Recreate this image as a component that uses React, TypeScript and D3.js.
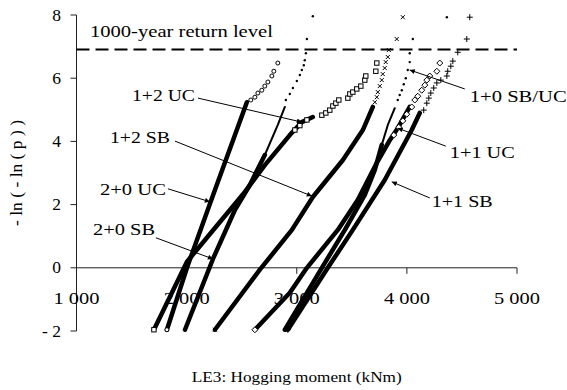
import React from 'react';
import * as d3 from 'd3';

const W = 567;
const H = 390;

// Axis ticks
const xTicks = [1000, 2000, 3000, 4000, 5000];
const xTickLabels = ['1 000', '2 000', '3 000', '4 000', '5 000'];
const yTicks = [-2, 0, 2, 4, 6, 8];
const yTickLabels = ['- 2', '0', '2', '4', '6', '8'];

// Reduced variate of the 1000-year return level: -ln(-ln(1 - 1/1000))
const returnLevel1000 = 6.907;

type Pt = [number, number];

// 2+0 UC
const uc20Dense: Pt[] = [[1821, -1.96], [2003, 0.0], [2211, 2.02], [2257, 2.46], [2547, 5.24]];
const uc20Thin: Pt[] = [];
const uc20Marks: Pt[] = [[1821, -1.96], [2583, 5.31], [2620, 5.4], [2647, 5.53], [2683, 5.62], [2710, 5.75], [2738, 5.88], [2774, 6.07], [2792, 6.22], [2828, 6.48]];

// 2+0 SB
const sb20Dense: Pt[] = [[1985, -1.96], [2239, 0.28], [2438, 1.83], [2574, 2.62], [2710, 3.57]];
const sb20Thin: Pt[] = [[2710, 3.57], [2828, 4.52], [2892, 5.09]];
const sb20Marks: Pt[] = [[1985, -1.96], [2901, 5.31], [2937, 5.5], [2965, 5.69], [3001, 5.91], [3028, 6.1], [3046, 6.26], [3064, 6.41], [3073, 6.57], [3083, 6.79], [3092, 7.24], [3146, 7.96]];

// 1+2 UC
const uc12Dense: Pt[] = [[1703, -1.96], [2003, 0.19], [2257, 1.26], [2529, 2.4], [2710, 3.25], [2937, 4.2], [3046, 4.61], [3146, 4.77]];
const uc12Thin: Pt[] = [];
const uc12Marks: Pt[] = [[1703, -1.96], [2983, 4.36], [3028, 4.5], [3092, 4.68], [3228, 4.83], [3264, 4.9], [3300, 4.99], [3328, 5.12], [3355, 5.21], [3382, 5.31], [3464, 5.37], [3482, 5.5], [3509, 5.56], [3545, 5.66], [3582, 5.75], [3618, 5.94], [3627, 6.07], [3718, 6.22], [3727, 6.48]];

// 1+2 SB
const sb12Dense: Pt[] = [[2257, -1.96], [2665, -0.06], [2956, 1.2], [3146, 2.24], [3419, 3.41], [3600, 4.36], [3691, 5.09]];
const sb12Thin: Pt[] = [];
const sb12Marks: Pt[] = [[2257, -1.96], [3709, 5.24], [3727, 5.4], [3736, 5.56], [3754, 5.75], [3772, 5.94], [3781, 6.13], [3799, 6.32], [3808, 6.51], [3827, 6.67], [3836, 6.89], [3908, 7.24], [3963, 7.93]];

// 1+1 UC
const uc11Dense: Pt[] = [[2620, -1.96], [2937, -0.79], [3092, 0.0], [3373, 1.2], [3555, 2.15], [3727, 3.32], [3845, 4.04], [3917, 4.42], [4026, 5.09]];
const uc11Thin: Pt[] = [];
const uc11Marks: Pt[] = [[2620, -1.96], [3881, 4.2], [3926, 4.45], [3963, 4.65], [3999, 4.86], [4044, 5.09], [4072, 5.31], [4099, 5.43], [4135, 5.62], [4163, 5.78], [4181, 5.94], [4208, 6.07], [4272, 6.22], [4299, 6.48]];

// 1+0 SB/UC
const sbuc10Dense: Pt[] = [[2892, -1.96], [3228, 0.0], [3437, 1.2], [3618, 2.31], [3709, 3.1], [3772, 3.89]];
const sbuc10Thin: Pt[] = [[3772, 3.89], [3827, 4.52], [3890, 5.05]];
const sbuc10Marks: Pt[] = [[2892, -1.96], [3917, 5.31], [3935, 5.47], [3954, 5.62], [3972, 5.81], [3990, 6.0], [4008, 6.26], [4026, 6.51], [4026, 6.79], [4054, 7.24], [4363, 7.93]];

// 1+1 SB
const sb11Dense: Pt[] = [[2919, -1.96], [3282, 0.0], [3509, 1.2], [3799, 2.78], [4044, 4.36], [4117, 4.9]];
const sb11Thin: Pt[] = [];
const sb11Marks: Pt[] = [[2919, -1.96], [4153, 4.99], [4181, 5.21], [4199, 5.37], [4217, 5.53], [4244, 5.69], [4272, 5.85], [4308, 5.94], [4363, 6.07], [4371, 6.22], [4399, 6.38], [4417, 6.54], [4462, 6.82], [4544, 7.24], [4571, 7.93]];

type MarkKind = 'circle' | 'dot' | 'square' | 'cross' | 'diamond' | 'plus';

const seriesTable: { dense: Pt[]; thin: Pt[]; marks: Pt[]; kind: MarkKind }[] = [
  { dense: uc12Dense, thin: uc12Thin, marks: uc12Marks, kind: 'square' },
  { dense: uc20Dense, thin: uc20Thin, marks: uc20Marks, kind: 'circle' },
  { dense: sb20Dense, thin: sb20Thin, marks: sb20Marks, kind: 'dot' },
  { dense: sb12Dense, thin: sb12Thin, marks: sb12Marks, kind: 'cross' },
  { dense: uc11Dense, thin: uc11Thin, marks: uc11Marks, kind: 'diamond' },
  { dense: sbuc10Dense, thin: sbuc10Thin, marks: sbuc10Marks, kind: 'dot' },
  { dense: sb11Dense, thin: sb11Thin, marks: sb11Marks, kind: 'plus' },
];

// Series labels: text anchor (data units), arrow start and arrow tip (data units)
const labelTexts = ['1+2 UC', '1+2 SB', '2+0 UC', '2+0 SB', '1+0 SB/UC', '1+1 UC', '1+1 SB'];
const labelAt: Pt[] = [[1504, 5.28], [1304, 3.95], [1213, 2.31], [1150, 1.04], [4571, 5.24], [4390, 3.48], [4226, 1.93]];
const arrowFrom: Pt[] = [[2103, 5.37], [1894, 4.01], [1830, 2.5], [1721, 0.95], [4526, 5.66], [4353, 3.85], [4208, 2.21]];
const arrowTo: Pt[] = [[3046, 4.61], [3137, 2.27], [2211, 2.09], [2239, 0.28], [4026, 6.26], [3917, 4.42], [3863, 2.72]];
const labelWidths = [63, 60, 66, 62, 97, 65, 61];

const FONT = '"Liberation Serif", "Times New Roman", serif';

function Marker({ kind, cx, cy }: { kind: MarkKind; cx: number; cy: number }) {
  switch (kind) {
    case 'circle':
      return <circle cx={cx} cy={cy} r={2} fill="#fff" stroke="#000" strokeWidth={1} />;
    case 'dot':
      return <circle cx={cx} cy={cy} r={1.2} fill="#000" />;
    case 'square':
      return <rect x={cx - 2.2} y={cy - 2.2} width={4.4} height={4.4} fill="#fff" stroke="#000" strokeWidth={1} />;
    case 'cross':
      return (
        <path d={`M${cx - 2},${cy - 2}L${cx + 2},${cy + 2}M${cx - 2},${cy + 2}L${cx + 2},${cy - 2}`} stroke="#000" strokeWidth={1} />
      );
    case 'diamond':
      return (
        <path d={`M${cx},${cy - 3}L${cx + 3},${cy}L${cx},${cy + 3}L${cx - 3},${cy}Z`} fill="#fff" stroke="#000" strokeWidth={1} />
      );
    case 'plus':
      return <path d={`M${cx - 3},${cy}L${cx + 3},${cy}M${cx},${cy - 3}L${cx},${cy + 3}`} stroke="#000" strokeWidth={1} />;
  }
  return null;
}

export default function App() {
  const x = d3.scaleLinear().domain([1000, 5000]).range([76.5, 517]);
  const y = d3.scaleLinear().domain([-2, 8]).range([331, 15]);
  const line = d3
    .line<Pt>()
    .x((d) => x(d[0]))
    .y((d) => y(d[1]))
    .curve(d3.curveLinear);

  const x0 = x(1000);
  const yZero = y(0);

  return (
    <svg width={W} height={H} style={{ position: 'absolute', left: 0, top: 0, background: '#fff' }} fontFamily={FONT}>
      <defs>
        <marker id="arrowHead" viewBox="0 0 10 10" refX="10" refY="5" markerWidth="7" markerHeight="5" markerUnits="userSpaceOnUse" orient="auto">
          <path d="M0,0L10,5L0,10Z" fill="#000" />
        </marker>
      </defs>

      {/* y axis */}
      <line x1={x0} x2={x0} y1={y(8)} y2={y(-2)} stroke="#222" strokeWidth={1} />
      {yTicks.map((t, i) => (
        <g key={`yt${t}`}>
          <line x1={x0 - 6} x2={x0} y1={y(t)} y2={y(t)} stroke="#222" strokeWidth={1} />
          <text x={61} y={y(t) + 5.5} textAnchor="end" fontSize={17.5}>
            {yTickLabels[i]}
          </text>
        </g>
      ))}

      {/* x axis through zero */}
      <line x1={x0} x2={x(5000)} y1={yZero} y2={yZero} stroke="#222" strokeWidth={1} />
      {xTicks.map((t, i) => (
        <g key={`xt${t}`}>
          <line x1={x(t)} x2={x(t)} y1={yZero} y2={yZero + 6} stroke="#222" strokeWidth={1} />
          <text x={x(t)} y={304} textAnchor="middle" fontSize={17.5} textLength={46} lengthAdjust="spacingAndGlyphs">
            {xTickLabels[i]}
          </text>
        </g>
      ))}

      {/* 1000-year return level */}
      <line x1={x0} x2={x(5000)} y1={y(returnLevel1000)} y2={y(returnLevel1000)} stroke="#000" strokeWidth={2} strokeDasharray="13 6" />
      <text x={x(1122)} y={y(7.3)} fontSize={17.5} textLength={183} lengthAdjust="spacingAndGlyphs">
        1000-year return level
      </text>

      {/* series */}
      {seriesTable.map((s, i) => (
        <g key={`s${i}`}>
          <path d={line(s.dense) || ''} fill="none" stroke="#000" strokeWidth={4.5} strokeLinecap="round" strokeLinejoin="round" />
          {s.thin.length > 0 && (
            <path d={line(s.thin) || ''} fill="none" stroke="#000" strokeWidth={2} strokeLinecap="round" strokeLinejoin="round" />
          )}
          {s.marks.map((p, j) => (
            <Marker key={j} kind={s.kind} cx={x(p[0])} cy={y(p[1])} />
          ))}
        </g>
      ))}

      {/* series labels with arrows */}
      {labelTexts.map((t, i) => (
        <g key={`lab${i}`}>
          <line
            x1={x(arrowFrom[i][0])}
            y1={y(arrowFrom[i][1])}
            x2={x(arrowTo[i][0])}
            y2={y(arrowTo[i][1])}
            stroke="#000"
            strokeWidth={1}
            markerEnd="url(#arrowHead)"
          />
          <text x={x(labelAt[i][0])} y={y(labelAt[i][1])} fontSize={17.5} textLength={labelWidths[i]} lengthAdjust="spacingAndGlyphs">
            {t}
          </text>
        </g>
      ))}

      {/* axis titles */}
      <text
        transform={`translate(22, ${(y(8) + y(-2)) / 2}) rotate(-90)`}
        textAnchor="middle"
        fontSize={17.5}
      >
        - ln ( - ln ( p ) )
      </text>
      <text x={(x0 + x(5000)) / 2} y={382} textAnchor="middle" fontSize={15} textLength={210} lengthAdjust="spacingAndGlyphs">
        LE3: Hogging moment (kNm)
      </text>
    </svg>
  );
}
